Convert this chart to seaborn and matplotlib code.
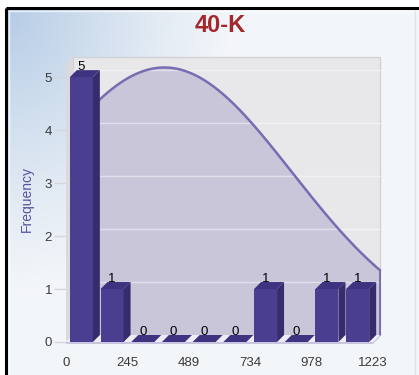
import numpy as np
import matplotlib
matplotlib.use("Agg")
import matplotlib.pyplot as plt
import seaborn as sns
from matplotlib.patches import Polygon, Rectangle

# Histogram of 40-K values: 10 equal-width bins from 0 to 1223
range_max = 1223
counts = [5, 1, 0, 0, 0, 0, 1, 0, 1, 1]
tick_values = [0, 245, 489, 734, 978, 1223]
# Fitted normal curve shown behind the bars (on the frequency scale)
curve_mean = 364
curve_sd = 510
curve_peak = 5.05

title_text = "40-K"
y_label = "Frequency"

# colours
front_col = "#4a3e91"
side_col = "#362c6c"
top_col = "#3e3380"
wall_col = "#e8e8eb"
fill_col = "#c9c6da"
curve_col = "#776db0"

sns.set_theme(style="white")
plt.rcParams["font.family"] = ["Liberation Sans", "DejaVu Sans"]

W, H = 419, 375
fig = plt.figure(figsize=(W / 100, H / 100), dpi=100)
fig.patch.set_facecolor("white")

# ---- background panel with a soft blue gradient from the top-left corner
bg = fig.add_axes([0, 0, 1, 1], zorder=0)
bg.set_xlim(0, W)
bg.set_ylim(H, 0)
bg.axis("off")
px0, py0 = 6, 8
yy, xx = np.mgrid[0:H - py0, 0:W - px0]
d = np.sqrt((xx / 230.0) ** 2 + (yy / 290.0) ** 2)
t = np.clip(1 - d, 0, 1) ** 1.2
blue = np.array([0.71, 0.80, 0.90])
light = np.array([0.955, 0.965, 0.978])
img = light + (blue - light) * t[..., None]
bg.imshow(img, extent=(px0, W, H, py0), aspect="auto", origin="upper", zorder=0)
bg.plot([px0, px0], [py0, H], color="black", lw=2.2, zorder=2, solid_capstyle="butt")
bg.plot([px0, W], [py0, py0], color="black", lw=2.2, zorder=2, solid_capstyle="butt")
bg.plot([px0 + 3, px0 + 3], [py0 + 3, H], color="white", lw=1, alpha=0.7, zorder=2)
bg.plot([px0 + 3, W], [py0 + 3, py0 + 3], color="white", lw=1, alpha=0.7, zorder=2)
bg.plot([W - 4, W - 4], [py0 + 3, H], color="#dfe3e8", lw=1, zorder=2)

# ---- main plot area (front plane of the 3D box)
left_px, right_px, top_px, bottom_px = 66, 373, 57, 342
ymax = 5.38
ax = fig.add_axes([left_px / W, (H - bottom_px) / H,
                   (right_px - left_px) / W, (bottom_px - top_px) / H], zorder=1)
ax.set_facecolor("none")

edges = np.linspace(0, range_max, len(counts) + 1)
centers = (edges[:-1] + edges[1:]) / 2

sns.barplot(x=centers, y=counts, native_scale=True, width=0.75, color=front_col,
            saturation=1, edgecolor="none", linewidth=0, ax=ax, zorder=3)
bar_patches = list(ax.patches)

ax.set_xlim(0, range_max)
ax.set_ylim(0, ymax)

# depth offset of the 3D effect, in data units
depth_px = 7
dx = depth_px * range_max / (right_px - left_px)
dy = depth_px * ymax / (bottom_px - top_px)

# back wall, left wall, floor
ax.add_patch(Rectangle((dx, dy), range_max, ymax - dy, facecolor=wall_col,
                       edgecolor="#d2d2d6", lw=1, zorder=0.2, clip_on=False))
ax.add_patch(Polygon([(0, 0), (0, ymax - dy), (dx, ymax), (dx, dy)], closed=True,
                     facecolor="#d9d9de", edgecolor="none", zorder=1.5, clip_on=False))
ax.add_patch(Polygon([(0, 0), (range_max, 0), (range_max + dx, dy), (dx, dy)], closed=True,
                     facecolor="#eeedf5", edgecolor="none", zorder=1.6, clip_on=False))
ax.add_patch(Polygon([(0, 0), (range_max, 0), (range_max + dx, dy),
                      (range_max + dx, dy - 2 * dy / depth_px), (range_max, -2 * dy / depth_px),
                      (0, -2 * dy / depth_px)], closed=True,
                     facecolor="#c9c5e0", edgecolor="none", zorder=1.55, clip_on=False))

# fitted curve on the back wall
xs = np.linspace(0, range_max, 400)
ys = curve_peak * np.exp(-0.5 * ((xs - curve_mean) / curve_sd) ** 2)
ax.fill_between(xs + dx, dy, ys + dy, color=fill_col, lw=0, zorder=0.6, clip_on=False)
for v in range(1, 6):
    ax.plot([dx, range_max + dx], [v + dy, v + dy], color="white", lw=1, alpha=0.45,
            zorder=0.7, clip_on=False)
ax.plot(xs + dx, ys + dy, color=curve_col, lw=1.8, zorder=0.9, clip_on=False)
ax.plot([range_max + dx, range_max + dx], [ys[-1] + dy, dy], color=curve_col, lw=1.4,
        zorder=0.9, clip_on=False)

# 3D faces of each bar
for p in bar_patches:
    x0, w, h = p.get_x(), p.get_width(), p.get_height()
    ax.add_patch(Polygon([(x0 + w, 0), (x0 + w + dx, dy), (x0 + w + dx, h + dy), (x0 + w, h)],
                         closed=True, facecolor=side_col, edgecolor="none", zorder=3,
                         clip_on=False))
    ax.add_patch(Polygon([(x0, h), (x0 + dx, h + dy), (x0 + w + dx, h + dy), (x0 + w, h)],
                         closed=True, facecolor=top_col, edgecolor="none", zorder=3,
                         clip_on=False))

ax.bar_label(ax.containers[0], labels=[str(c) for c in counts], padding=3,
             fontsize=9.5, color="black", zorder=4)

# axes and ticks
ax.set_xticks(tick_values)
ax.set_xticklabels([str(v) for v in tick_values])
ax.set_yticks(range(6))
ax.set_yticklabels([str(v) for v in range(6)])
ax.tick_params(axis="x", length=0, pad=11, labelsize=9.5, labelcolor="#3a3a3a")
ax.tick_params(axis="y", length=9, width=1, color="#d4d6da", pad=1, labelsize=9.5,
               labelcolor="#3a3a3a", left=True)
for s in ax.spines.values():
    s.set_visible(False)
ax.grid(False)
ax.set_xlabel("")
ax.set_ylabel(y_label, color="#5a50a0", fontsize=10)
ax.yaxis.set_label_coords(-0.104, 0.5)

fig.text(220 / W, 1 - 26 / H, title_text, ha="center", va="center",
         fontsize=17, fontweight="bold", color="#a3282b")

fig.savefig("out.png", dpi=100)
